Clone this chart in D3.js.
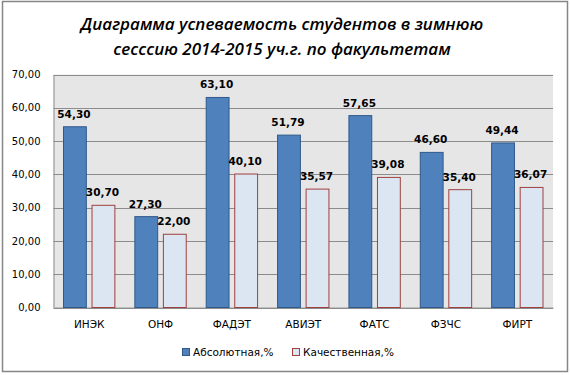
<!DOCTYPE html>
<html>
<head>
<meta charset="utf-8">
<script src="https://cdn.jsdelivr.net/npm/d3@7"></script>
<style>
  body { margin: 0; background: #fff; }
  svg text { font-family: "DejaVu Sans", Tahoma, sans-serif; fill: #000; }
  .title { font-family: "Open Sans", "DejaVu Sans", sans-serif; font-style: italic; font-weight: 600; font-size: 17px; }
  .axis text { font-size: 10px; }
  .val { font-size: 10.5px; font-weight: bold; }
</style>
</head>
<body>
<div id="chart"></div>
<script>
var categories = ["ИНЭК", "ОНФ", "ФАДЭТ", "АВИЭТ", "ФАТС", "ФЗЧС", "ФИРТ"];
var absolute = [54.30, 27.30, 63.10, 51.79, 57.65, 46.60, 49.44];
var quality = [30.70, 22.00, 40.10, 35.57, 39.08, 35.40, 36.07];
var seriesNames = ["Абсолютная,%", "Качественная,%"];
var yTicks = [0, 10, 20, 30, 40, 50, 60, 70];
var titleLines = ["Диаграмма успеваемость студентов в зимнюю", "сесссию 2014-2015 уч.г. по факультетам"];

var W = 570, H = 375;
var plot = {left: 53.5, right: 553, top: 74.5, bottom: 307.5};

var fmt = function (v) { return v.toFixed(2).replace(".", ","); };

var svg = d3.select("#chart").append("svg")
    .attr("width", W)
    .attr("height", H);

// outer frame
svg.append("rect")
    .attr("x", 2.5).attr("y", 1.5)
    .attr("width", 565).attr("height", 370)
    .attr("fill", "#fff")
    .attr("stroke", "#868686")
    .attr("stroke-width", 1.5);

// title
svg.selectAll("text.title")
    .data(titleLines)
    .enter().append("text")
    .attr("class", "title")
    .attr("x", 282)
    .attr("y", function (d, i) { return 30 + i * 25; })
    .attr("text-anchor", "middle")
    .text(function (d) { return d; });

var x0 = d3.scaleBand().domain(categories).range([plot.left, plot.right]).paddingInner(0).paddingOuter(0);
var x1 = d3.scaleBand().domain([0, 1]).range([0, x0.bandwidth()]).paddingInner(0.2).paddingOuter(0.35);
var y = d3.scaleLinear().domain([0, 70]).range([plot.bottom, plot.top]);

// plot background
svg.append("rect")
    .attr("x", plot.left).attr("y", plot.top)
    .attr("width", plot.right - plot.left).attr("height", plot.bottom - plot.top)
    .attr("fill", "#e6e6e6");

// gridlines
svg.selectAll("line.grid")
    .data(yTicks)
    .enter().append("line")
    .attr("class", "grid")
    .attr("x1", plot.left).attr("x2", plot.right)
    .attr("y1", function (d) { return Math.round(y(d)) + 0.5; })
    .attr("y2", function (d) { return Math.round(y(d)) + 0.5; })
    .attr("stroke", "#8c8c8c")
    .attr("stroke-width", 1);

// y axis
var yAxis = svg.append("g")
    .attr("class", "axis")
    .attr("transform", "translate(" + plot.left + ",0)")
    .call(d3.axisLeft(y).tickValues(yTicks).tickSize(0).tickPadding(13).tickFormat(fmt));
yAxis.select(".domain").attr("stroke", "#8c8c8c");

// x axis labels
var xAxis = svg.append("g")
    .attr("class", "axis")
    .attr("transform", "translate(0," + plot.bottom + ")")
    .call(d3.axisBottom(x0).tickSize(0).tickPadding(13));
xAxis.select(".domain").attr("stroke", "#8c8c8c");
xAxis.selectAll("text").style("font-size", "10.5px");

var rows = categories.map(function (c, i) { return {cat: c, vals: [absolute[i], quality[i]]}; });
var fills = ["#4f81bd", "#dce6f2"];
var strokes = ["#2f5a8c", "#a0413f"];

var groups = svg.selectAll("g.cat")
    .data(rows)
    .enter().append("g")
    .attr("class", "cat")
    .attr("transform", function (d) { return "translate(" + x0(d.cat) + ",0)"; });

groups.selectAll("rect")
    .data(function (d) { return d.vals; })
    .enter().append("rect")
    .attr("x", function (d, i) { return x1(i); })
    .attr("y", function (d) { return y(d); })
    .attr("width", x1.bandwidth())
    .attr("height", function (d) { return plot.bottom - y(d); })
    .attr("fill", function (d, i) { return fills[i]; })
    .attr("stroke", function (d, i) { return strokes[i]; })
    .attr("stroke-width", 1);

groups.selectAll("text.val")
    .data(function (d) { return d.vals; })
    .enter().append("text")
    .attr("class", "val")
    .attr("x", function (d, i) { return x1(i) + x1.bandwidth() / 2 - 1; })
    .attr("y", function (d) { return y(d) - 9; })
    .attr("text-anchor", "middle")
    .text(fmt);

// legend
var legendX = [182, 292];
var legend = svg.selectAll("g.legend")
    .data(seriesNames)
    .enter().append("g")
    .attr("class", "legend")
    .attr("transform", function (d, i) { return "translate(" + legendX[i] + ",348)"; });
legend.append("rect")
    .attr("x", 0.5).attr("y", 0.5)
    .attr("width", 7).attr("height", 7)
    .attr("fill", function (d, i) { return fills[i]; })
    .attr("stroke", function (d, i) { return strokes[i]; });
legend.append("text")
    .attr("x", 11).attr("y", 8)
    .style("font-size", "10.5px")
    .text(function (d) { return d; });
</script>
</body>
</html>
